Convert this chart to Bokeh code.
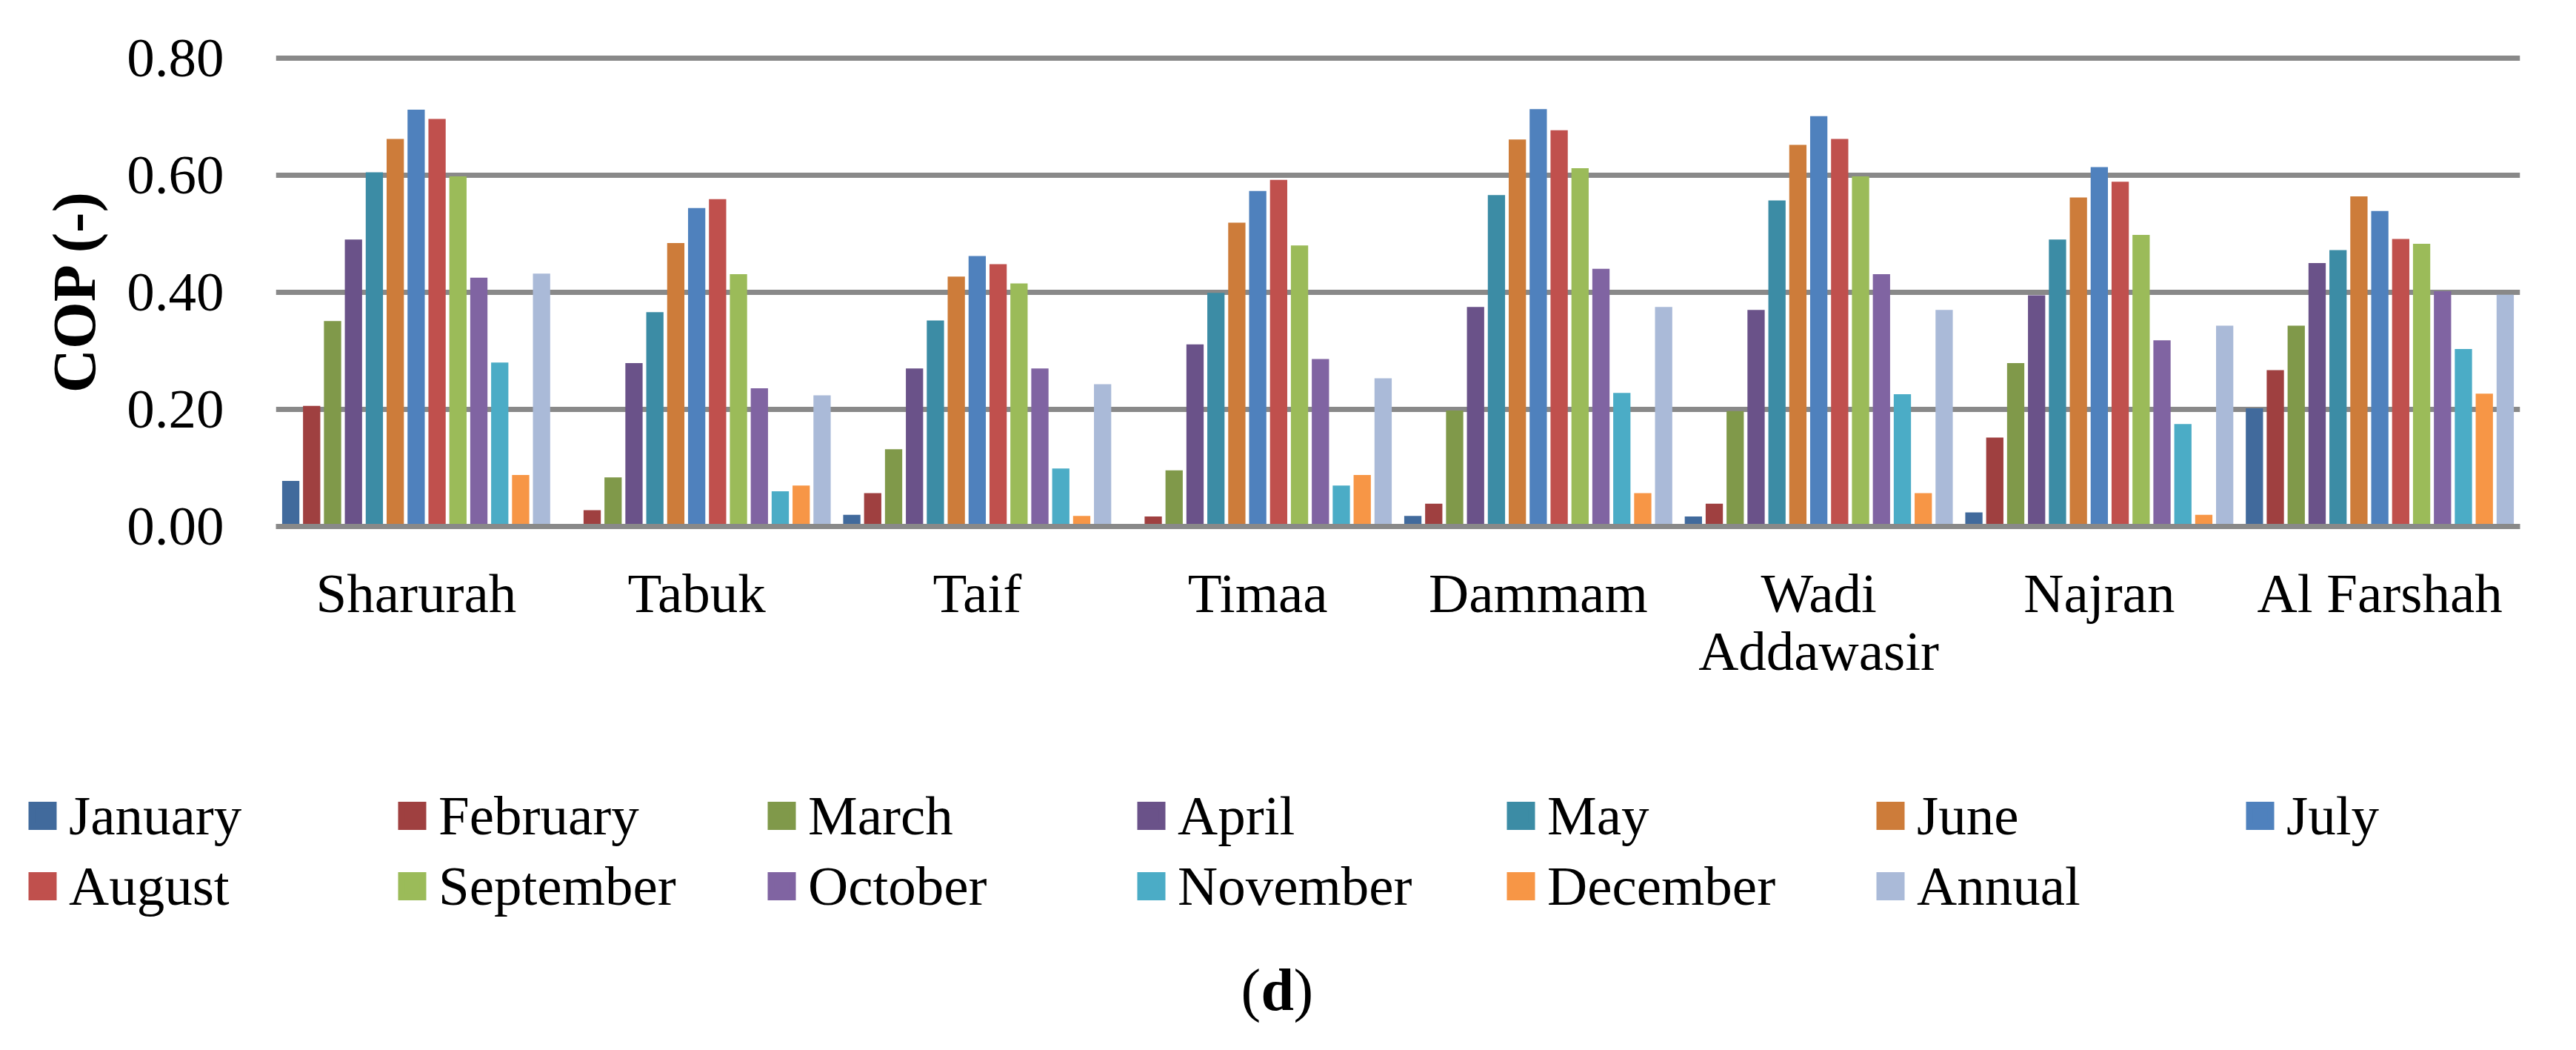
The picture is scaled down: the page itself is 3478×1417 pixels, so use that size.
from bokeh.plotting import figure
from bokeh.layouts import column
from bokeh.models import (ColumnDataSource, FactorRange, Range1d, FixedTicker,
                          NumeralTickFormatter, Legend, LegendItem, Label)
from bokeh.transform import dodge
from bokeh.embed import file_html
from bokeh.resources import INLINE

# ---------------- data ----------------
stations = ["Sharurah", "Tabuk", "Taif", "Timaa", "Dammam", "Wadi\nAddawasir", "Najran", "Al Farshah"]

months = ["January", "February", "March", "April", "May", "June", "July",
          "August", "September", "October", "November", "December", "Annual"]

january   = [0.078, 0.000, 0.020, 0.000, 0.018, 0.017, 0.024, 0.202]
february  = [0.206, 0.028, 0.057, 0.017, 0.039, 0.039, 0.152, 0.267]
march     = [0.351, 0.084, 0.132, 0.096, 0.198, 0.197, 0.279, 0.343]
april     = [0.490, 0.279, 0.270, 0.311, 0.375, 0.370, 0.395, 0.450]
may       = [0.605, 0.366, 0.352, 0.399, 0.566, 0.557, 0.490, 0.472]
june      = [0.662, 0.484, 0.427, 0.519, 0.661, 0.652, 0.562, 0.564]
july      = [0.712, 0.544, 0.462, 0.573, 0.713, 0.701, 0.614, 0.539]
august    = [0.696, 0.559, 0.448, 0.592, 0.677, 0.662, 0.589, 0.491]
september = [0.598, 0.431, 0.415, 0.480, 0.612, 0.598, 0.498, 0.483]
october   = [0.425, 0.236, 0.270, 0.286, 0.440, 0.431, 0.318, 0.402]
november  = [0.280, 0.060, 0.099, 0.070, 0.228, 0.226, 0.175, 0.303]
december  = [0.088, 0.070, 0.018, 0.088, 0.057, 0.057, 0.020, 0.227]
annual    = [0.432, 0.224, 0.243, 0.253, 0.375, 0.370, 0.343, 0.396]

series = [january, february, march, april, may, june, july, august,
          september, october, november, december, annual]

colors = ["#416A9C", "#9F4040", "#80994A", "#6A5289", "#3C8CA5", "#CD7C3A",
          "#4F81BD", "#C0504D", "#9BBB59", "#8064A2", "#4BACC6", "#F79646", "#AABAD8"]

y_ticks = [0.0, 0.2, 0.4, 0.6, 0.8]
caption = ["(", "d", ")"]

# ---------------- main chart ----------------
FONT = "Liberation Serif"
W = 3462
H_MAIN = 1000
H_LEG = 401
TOP = 74
FRAME_H = 636

data = {"station": stations}
for m, vals in zip(months, series):
    data[m] = vals
source = ColumnDataSource(data)

p = figure(x_range=FactorRange(factors=stations, range_padding=0),
           y_range=Range1d(0, 0.805),
           width=W, height=H_MAIN,
           output_backend="svg", toolbar_location=None,
           min_border_left=372, min_border_right=60,
           min_border_top=TOP, min_border_bottom=H_MAIN - TOP - FRAME_H)
p.frame_align = False
p.outline_line_color = None
p.background_fill_color = "white"

pitch = 0.0745
bar_w = 0.0615
for i, (m, c) in enumerate(zip(months, colors)):
    p.vbar(x=dodge("station", (i - 6) * pitch, range=p.x_range), top=m,
           width=bar_w, bottom=0, source=source, fill_color=c, line_color=None)

p.xgrid.visible = False
p.ygrid.grid_line_color = "#898989"
p.ygrid.grid_line_width = 7

p.yaxis.ticker = FixedTicker(ticks=y_ticks)
p.yaxis.formatter = NumeralTickFormatter(format="0.00")
p.yaxis.axis_line_color = None
p.yaxis.major_tick_line_color = None
p.yaxis.minor_tick_line_color = None
p.yaxis.major_label_standoff = 64
p.yaxis.major_label_text_font = FONT
p.yaxis.major_label_text_font_size = "75px"
p.yaxis.major_label_text_color = "black"
p.yaxis.axis_label = "COP (-)"
p.yaxis.axis_label_text_font = FONT
p.yaxis.axis_label_text_font_size = "82px"
p.yaxis.axis_label_text_font_style = "bold"
p.yaxis.axis_label_text_color = "black"
p.yaxis.axis_label_standoff = 22

p.xaxis.axis_line_color = "#898989"
p.xaxis.axis_line_width = 7
p.xaxis.major_tick_line_color = None
p.xaxis.minor_tick_line_color = None
p.xaxis.major_label_standoff = 42
p.xaxis.major_label_text_font = FONT
p.xaxis.major_label_text_font_size = "75px"
p.xaxis.major_label_text_color = "black"
p.xaxis.major_label_text_line_height = 0.95

# ---------------- legend + caption panel ----------------
q = figure(x_range=Range1d(0, W), y_range=Range1d(0, H_LEG),
           width=W, height=H_LEG, output_backend="svg", toolbar_location=None,
           x_axis_location=None, y_axis_location=None,
           min_border=0, min_border_left=0, min_border_right=0,
           min_border_top=0, min_border_bottom=0)
q.frame_align = False
q.outline_line_color = None
q.xgrid.visible = False
q.ygrid.visible = False
q.background_fill_color = "white"

items = []
for m, c in zip(months, colors):
    # proxy renderer (single point placed outside the visible range) for the legend swatch
    r = q.scatter(x=[-500], y=[-500], marker="square", size=10, fill_color=c,
                  line_color=c, line_width=9.2, line_join="miter")
    items.append(LegendItem(label=m, renderers=[r]))

legend = Legend(items=items, orientation="horizontal", ncols=7,
                location=(21, 158),
                glyph_width=72, glyph_height=95, label_height=95, label_width=427,
                label_standoff=0, spacing=0, padding=0, margin=0,
                border_line_color=None, background_fill_alpha=0,
                label_text_font=FONT, label_text_font_size="75px",
                label_text_color="black")
q.add_layout(legend)

cap_y = 66
for txt, xx, style in zip(caption, [1675, 1702, 1746], ["normal", "bold", "normal"]):
    q.add_layout(Label(x=xx, y=cap_y, text=txt,
                       text_font=FONT, text_font_size="80px", text_font_style=style,
                       text_color="black", text_align="left", text_baseline="alphabetic"))

layout = column(p, q, spacing=0)
open("out.html", "w").write(file_html(layout, INLINE))
